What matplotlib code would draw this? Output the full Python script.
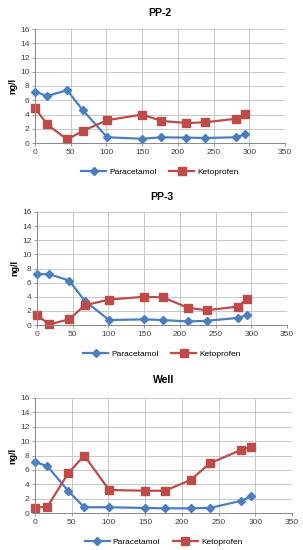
import matplotlib
matplotlib.use("Agg")
import matplotlib.pyplot as plt

plt.rcParams["font.family"] = ["Liberation Sans", "DejaVu Sans"]

# sampling times (same for every panel)
days = [0, 17, 45, 67, 101, 150, 177, 212, 238, 281, 294]

titles = ["PP-2", "PP-3", "Well"]

paracetamol = [
    [7.2, 6.6, 7.4, 4.6, 0.8, 0.6, 0.8, 0.75, 0.7, 0.8, 1.2],
    [7.2, 7.2, 6.3, 3.4, 0.7, 0.8, 0.7, 0.5, 0.6, 1.0, 1.4],
    [7.1, 6.5, 3.1, 0.8, 0.8, 0.7, 0.65, 0.65, 0.7, 1.7, 2.3],
]
ketoprofen = [
    [4.9, 2.6, 0.5, 1.7, 3.2, 4.0, 3.1, 2.8, 2.9, 3.4, 4.1],
    [1.4, 0.1, 0.8, 2.8, 3.6, 4.0, 3.9, 2.4, 2.1, 2.6, 3.7],
    [0.7, 0.9, 5.5, 8.0, 3.2, 3.1, 3.1, 4.6, 6.9, 8.8, 9.2],
]

blue = "#4A7EC2"
red = "#BE4B48"

W, H = 303, 550
fig = plt.figure(figsize=(W / 100, H / 100), dpi=100)

# pixel boxes: left, right, top, bottom, title y, legend y
boxes = [
    (35, 285, 29, 143, 13, 172),
    (37, 287, 212, 325, 197, 354),
    (35, 292, 398, 513, 380, 542),
]

for i in range(3):
    l, r, t, b, ty, ly = boxes[i]
    ax = fig.add_axes([l / W, 1 - b / H, (r - l) / W, (b - t) / H])
    ax.plot(days, paracetamol[i], color=blue, marker="D", markersize=4,
            linewidth=1.6, label="Paracetamol", clip_on=False)
    ax.plot(days, ketoprofen[i], color=red, marker="s", markersize=5.5,
            linewidth=1.6, label="Ketoprofen", clip_on=False)
    ax.set_xlim(0, 350)
    ax.set_ylim(0, 16)
    ax.set_xticks(range(0, 351, 50))
    ax.set_yticks(range(0, 17, 2))
    ax.grid(True, color="#C8C8C8", linewidth=0.7)
    ax.set_axisbelow(True)
    for s in ["top", "right"]:
        ax.spines[s].set_visible(False)
    for s in ["left", "bottom"]:
        ax.spines[s].set_color("#888888")
        ax.spines[s].set_linewidth(0.7)
    ax.tick_params(labelsize=6, length=2, width=0.6, color="#888888",
                   labelcolor="#404040", pad=2)
    ax.set_ylabel("ng/l", fontsize=6.5, fontweight="bold", labelpad=2)
    fig.text((l + r) / 2 / W, 1 - ty / H, titles[i], ha="center", va="center",
             fontsize=7.5, fontweight="bold")
    ax.legend(loc="center", bbox_to_anchor=(0.5, (b - ly) / (b - t)),
              ncol=2, frameon=False, fontsize=6, handlelength=3,
              columnspacing=1.5, handletextpad=0.4)

fig.savefig("out.png", dpi=100)
